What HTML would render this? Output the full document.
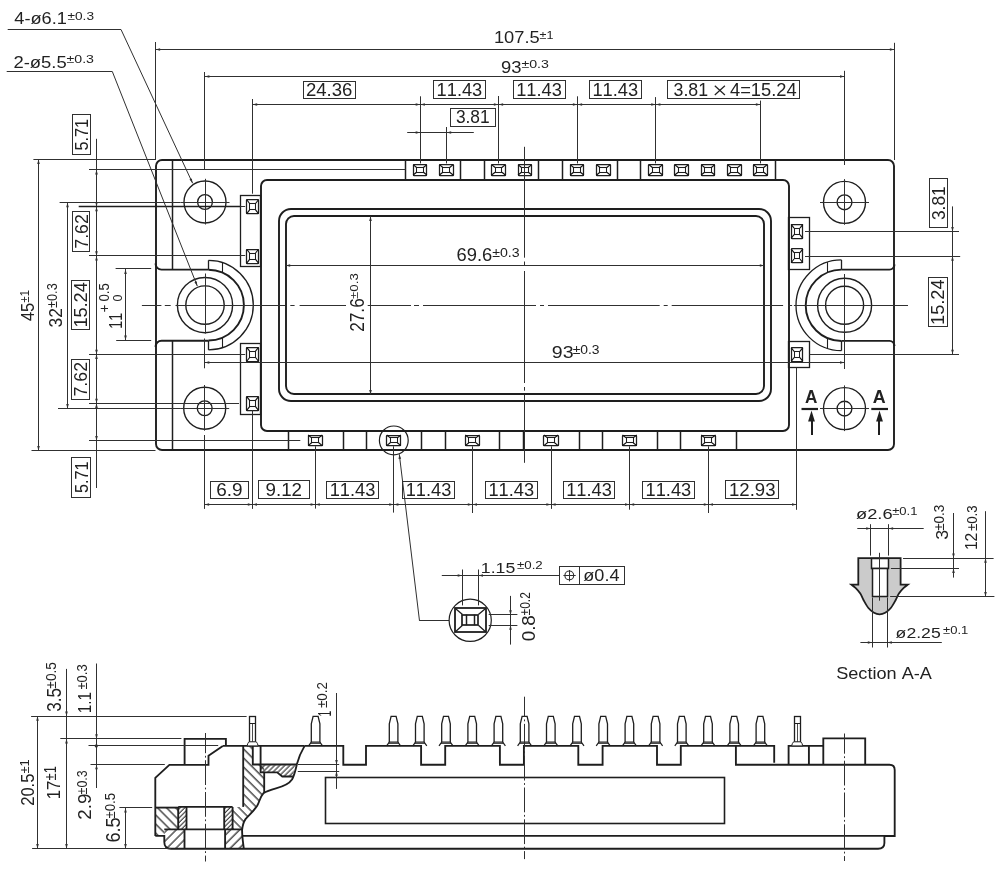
<!DOCTYPE html>
<html><head><meta charset="utf-8"><style>
html,body{margin:0;padding:0;background:#fff;}
svg{display:block;will-change:transform;}
text{font-family:"Liberation Sans",sans-serif;font-kerning:none;}
</style></head><body>
<svg width="1002" height="869" viewBox="0 0 1002 869">
<rect x="0" y="0" width="1002" height="869" fill="#fff"/>
<rect x="156.00" y="160.00" width="738.00" height="290.00" rx="6.00" stroke="#1e1e1e" stroke-width="1.90" fill="none"/>
<path d="M155.50 263.60A6 6 0 0 0 161.50 269.60L208.50 269.60" stroke="#1e1e1e" stroke-width="1.90" fill="none"/>
<path d="M155.50 346.70A6 6 0 0 1 161.50 340.70L208.50 340.70" stroke="#1e1e1e" stroke-width="1.90" fill="none"/>
<line x1="172.50" y1="160.00" x2="172.50" y2="269.60" stroke="#1e1e1e" stroke-width="1.50"/>
<line x1="172.50" y1="340.70" x2="172.50" y2="450.20" stroke="#1e1e1e" stroke-width="1.50"/>
<path d="M894.50 264.60A5 5 0 0 1 889.50 269.60L841.40 269.60" stroke="#1e1e1e" stroke-width="1.90" fill="none"/>
<path d="M894.50 345.90A5 5 0 0 0 889.50 340.90L841.40 340.90" stroke="#1e1e1e" stroke-width="1.90" fill="none"/>
<path d="M208.50 269.70A35.40 35.40 0 0 1 208.50 340.50" stroke="#1e1e1e" stroke-width="1.90" fill="none"/>
<path d="M208.50 260.30A44.80 44.80 0 0 1 208.50 349.90" stroke="#1e1e1e" stroke-width="1.30" fill="none"/>
<line x1="208.50" y1="260.30" x2="208.50" y2="269.70" stroke="#1e1e1e" stroke-width="1.30"/>
<line x1="208.50" y1="349.90" x2="208.50" y2="340.50" stroke="#1e1e1e" stroke-width="1.30"/>
<line x1="222.50" y1="262.51" x2="222.50" y2="272.54" stroke="#1e1e1e" stroke-width="1.10"/>
<line x1="222.50" y1="347.69" x2="222.50" y2="337.66" stroke="#1e1e1e" stroke-width="1.10"/>
<path d="M841.40 269.60A35.70 35.70 0 0 0 841.40 341.00" stroke="#1e1e1e" stroke-width="1.90" fill="none"/>
<path d="M841.40 259.90A45.40 45.40 0 0 0 841.40 350.70" stroke="#1e1e1e" stroke-width="1.30" fill="none"/>
<line x1="841.50" y1="259.90" x2="841.50" y2="269.60" stroke="#1e1e1e" stroke-width="1.30"/>
<line x1="841.50" y1="350.70" x2="841.50" y2="341.00" stroke="#1e1e1e" stroke-width="1.30"/>
<line x1="827.50" y1="262.08" x2="827.50" y2="272.42" stroke="#1e1e1e" stroke-width="1.10"/>
<line x1="827.50" y1="348.52" x2="827.50" y2="338.18" stroke="#1e1e1e" stroke-width="1.10"/>
<circle cx="205.00" cy="305.10" r="19.20" stroke="#1e1e1e" stroke-width="1.40" fill="none"/>
<circle cx="205.00" cy="305.10" r="27.60" stroke="#1e1e1e" stroke-width="1.40" fill="none"/>
<circle cx="844.60" cy="305.30" r="19.00" stroke="#1e1e1e" stroke-width="1.40" fill="none"/>
<circle cx="844.60" cy="305.30" r="27.00" stroke="#1e1e1e" stroke-width="1.40" fill="none"/>
<circle cx="205.00" cy="202.00" r="21.00" stroke="#1e1e1e" stroke-width="1.35" fill="none"/>
<circle cx="205.00" cy="202.00" r="7.40" stroke="#1e1e1e" stroke-width="1.35" fill="none"/>
<line x1="180.50" y1="202.50" x2="229.50" y2="202.50" stroke="#303030" stroke-width="1.00"/>
<line x1="205.50" y1="178.80" x2="205.50" y2="224.50" stroke="#303030" stroke-width="1.00"/>
<circle cx="204.70" cy="408.20" r="21.00" stroke="#1e1e1e" stroke-width="1.35" fill="none"/>
<circle cx="204.70" cy="408.20" r="7.40" stroke="#1e1e1e" stroke-width="1.35" fill="none"/>
<line x1="180.20" y1="408.50" x2="229.20" y2="408.50" stroke="#303030" stroke-width="1.00"/>
<line x1="204.50" y1="385.00" x2="204.50" y2="430.70" stroke="#303030" stroke-width="1.00"/>
<circle cx="844.50" cy="202.30" r="21.00" stroke="#1e1e1e" stroke-width="1.35" fill="none"/>
<circle cx="844.50" cy="202.30" r="7.40" stroke="#1e1e1e" stroke-width="1.35" fill="none"/>
<line x1="820.00" y1="202.50" x2="869.00" y2="202.50" stroke="#303030" stroke-width="1.00"/>
<line x1="844.50" y1="179.10" x2="844.50" y2="224.80" stroke="#303030" stroke-width="1.00"/>
<circle cx="844.50" cy="408.60" r="21.00" stroke="#1e1e1e" stroke-width="1.35" fill="none"/>
<circle cx="844.50" cy="408.60" r="7.40" stroke="#1e1e1e" stroke-width="1.35" fill="none"/>
<line x1="820.00" y1="408.50" x2="869.00" y2="408.50" stroke="#303030" stroke-width="1.00"/>
<line x1="844.50" y1="385.40" x2="844.50" y2="431.10" stroke="#303030" stroke-width="1.00"/>
<line x1="405.50" y1="160.00" x2="405.50" y2="179.50" stroke="#1e1e1e" stroke-width="1.50"/>
<line x1="460.50" y1="160.00" x2="460.50" y2="179.50" stroke="#1e1e1e" stroke-width="1.50"/>
<line x1="484.50" y1="160.00" x2="484.50" y2="179.50" stroke="#1e1e1e" stroke-width="1.50"/>
<line x1="538.50" y1="160.00" x2="538.50" y2="179.50" stroke="#1e1e1e" stroke-width="1.50"/>
<line x1="562.50" y1="160.00" x2="562.50" y2="179.50" stroke="#1e1e1e" stroke-width="1.50"/>
<line x1="617.50" y1="160.00" x2="617.50" y2="179.50" stroke="#1e1e1e" stroke-width="1.50"/>
<line x1="640.50" y1="160.00" x2="640.50" y2="179.50" stroke="#1e1e1e" stroke-width="1.50"/>
<line x1="775.50" y1="160.00" x2="775.50" y2="179.50" stroke="#1e1e1e" stroke-width="1.50"/>
<rect x="261.00" y="180.00" width="528.00" height="251.00" rx="6.00" stroke="#1e1e1e" stroke-width="1.90" fill="none"/>
<rect x="279.00" y="209.00" width="492.00" height="192.00" rx="12.00" stroke="#1e1e1e" stroke-width="1.90" fill="none"/>
<rect x="286.00" y="216.00" width="478.00" height="178.00" rx="8.00" stroke="#1e1e1e" stroke-width="1.90" fill="none"/>
<line x1="288.50" y1="431.10" x2="288.50" y2="450.20" stroke="#1e1e1e" stroke-width="1.50"/>
<line x1="343.50" y1="431.10" x2="343.50" y2="450.20" stroke="#1e1e1e" stroke-width="1.50"/>
<line x1="366.50" y1="431.10" x2="366.50" y2="450.20" stroke="#1e1e1e" stroke-width="1.50"/>
<line x1="421.50" y1="431.10" x2="421.50" y2="450.20" stroke="#1e1e1e" stroke-width="1.50"/>
<line x1="445.50" y1="431.10" x2="445.50" y2="450.20" stroke="#1e1e1e" stroke-width="1.50"/>
<line x1="499.50" y1="431.10" x2="499.50" y2="450.20" stroke="#1e1e1e" stroke-width="1.50"/>
<line x1="523.50" y1="431.10" x2="523.50" y2="450.20" stroke="#1e1e1e" stroke-width="1.50"/>
<line x1="579.50" y1="431.10" x2="579.50" y2="450.20" stroke="#1e1e1e" stroke-width="1.50"/>
<line x1="602.50" y1="431.10" x2="602.50" y2="450.20" stroke="#1e1e1e" stroke-width="1.50"/>
<line x1="657.50" y1="431.10" x2="657.50" y2="450.20" stroke="#1e1e1e" stroke-width="1.50"/>
<line x1="680.50" y1="431.10" x2="680.50" y2="450.20" stroke="#1e1e1e" stroke-width="1.50"/>
<line x1="736.50" y1="431.10" x2="736.50" y2="450.20" stroke="#1e1e1e" stroke-width="1.50"/>
<rect x="240.50" y="195.50" width="20.00" height="71.00" rx="0.00" stroke="#1e1e1e" stroke-width="1.30" fill="none"/>
<rect x="240.50" y="343.50" width="20.00" height="71.00" rx="0.00" stroke="#1e1e1e" stroke-width="1.30" fill="none"/>
<rect x="788.50" y="217.50" width="21.00" height="52.00" rx="0.00" stroke="#1e1e1e" stroke-width="1.30" fill="none"/>
<rect x="788.50" y="341.50" width="21.00" height="26.00" rx="0.00" stroke="#1e1e1e" stroke-width="1.30" fill="none"/>
<rect x="413.50" y="164.50" width="13.00" height="11.00" rx="0.60" stroke="#1e1e1e" stroke-width="1.25" fill="none"/>
<rect x="416.50" y="167.50" width="7.00" height="5.00" rx="0.00" stroke="#1e1e1e" stroke-width="1.05" fill="none"/>
<path d="M413.15 164.65L416.57 167.46M426.85 164.65L423.43 167.46M413.15 175.05L416.57 172.24M426.85 175.05L423.43 172.24" stroke="#111" stroke-width="1.15" fill="none"/>
<rect x="439.50" y="164.50" width="14.00" height="11.00" rx="0.60" stroke="#1e1e1e" stroke-width="1.25" fill="none"/>
<rect x="442.50" y="167.50" width="7.00" height="5.00" rx="0.00" stroke="#1e1e1e" stroke-width="1.05" fill="none"/>
<path d="M439.45 164.65L442.88 167.46M453.15 164.65L449.73 167.46M439.45 175.05L442.88 172.24M453.15 175.05L449.73 172.24" stroke="#111" stroke-width="1.15" fill="none"/>
<rect x="491.50" y="164.50" width="14.00" height="11.00" rx="0.60" stroke="#1e1e1e" stroke-width="1.25" fill="none"/>
<rect x="495.50" y="167.50" width="6.00" height="5.00" rx="0.00" stroke="#1e1e1e" stroke-width="1.05" fill="none"/>
<path d="M491.65 164.65L495.07 167.46M505.35 164.65L501.93 167.46M491.65 175.05L495.07 172.24M505.35 175.05L501.93 172.24" stroke="#111" stroke-width="1.15" fill="none"/>
<rect x="518.50" y="164.50" width="13.00" height="11.00" rx="0.60" stroke="#1e1e1e" stroke-width="1.25" fill="none"/>
<rect x="521.50" y="167.50" width="7.00" height="5.00" rx="0.00" stroke="#1e1e1e" stroke-width="1.05" fill="none"/>
<path d="M518.05 164.65L521.48 167.46M531.75 164.65L528.32 167.46M518.05 175.05L521.48 172.24M531.75 175.05L528.32 172.24" stroke="#111" stroke-width="1.15" fill="none"/>
<rect x="570.50" y="164.50" width="13.00" height="11.00" rx="0.60" stroke="#1e1e1e" stroke-width="1.25" fill="none"/>
<rect x="573.50" y="167.50" width="7.00" height="5.00" rx="0.00" stroke="#1e1e1e" stroke-width="1.05" fill="none"/>
<path d="M570.15 164.65L573.58 167.46M583.85 164.65L580.42 167.46M570.15 175.05L573.58 172.24M583.85 175.05L580.42 172.24" stroke="#111" stroke-width="1.15" fill="none"/>
<rect x="596.50" y="164.50" width="14.00" height="11.00" rx="0.60" stroke="#1e1e1e" stroke-width="1.25" fill="none"/>
<rect x="599.50" y="167.50" width="7.00" height="5.00" rx="0.00" stroke="#1e1e1e" stroke-width="1.05" fill="none"/>
<path d="M596.55 164.65L599.98 167.46M610.25 164.65L606.82 167.46M596.55 175.05L599.98 172.24M610.25 175.05L606.82 172.24" stroke="#111" stroke-width="1.15" fill="none"/>
<rect x="648.50" y="164.50" width="14.00" height="11.00" rx="0.60" stroke="#1e1e1e" stroke-width="1.25" fill="none"/>
<rect x="652.50" y="167.50" width="7.00" height="5.00" rx="0.00" stroke="#1e1e1e" stroke-width="1.05" fill="none"/>
<path d="M648.95 164.65L652.38 167.46M662.65 164.65L659.22 167.46M648.95 175.05L652.38 172.24M662.65 175.05L659.22 172.24" stroke="#111" stroke-width="1.15" fill="none"/>
<rect x="674.50" y="164.50" width="14.00" height="11.00" rx="0.60" stroke="#1e1e1e" stroke-width="1.25" fill="none"/>
<rect x="678.50" y="167.50" width="7.00" height="5.00" rx="0.00" stroke="#1e1e1e" stroke-width="1.05" fill="none"/>
<path d="M674.75 164.65L678.18 167.46M688.45 164.65L685.02 167.46M674.75 175.05L678.18 172.24M688.45 175.05L685.02 172.24" stroke="#111" stroke-width="1.15" fill="none"/>
<rect x="701.50" y="164.50" width="13.00" height="11.00" rx="0.60" stroke="#1e1e1e" stroke-width="1.25" fill="none"/>
<rect x="704.50" y="167.50" width="7.00" height="5.00" rx="0.00" stroke="#1e1e1e" stroke-width="1.05" fill="none"/>
<path d="M701.15 164.65L704.58 167.46M714.85 164.65L711.42 167.46M701.15 175.05L704.58 172.24M714.85 175.05L711.42 172.24" stroke="#111" stroke-width="1.15" fill="none"/>
<rect x="727.50" y="164.50" width="14.00" height="11.00" rx="0.60" stroke="#1e1e1e" stroke-width="1.25" fill="none"/>
<rect x="730.50" y="167.50" width="7.00" height="5.00" rx="0.00" stroke="#1e1e1e" stroke-width="1.05" fill="none"/>
<path d="M727.45 164.65L730.88 167.46M741.15 164.65L737.72 167.46M727.45 175.05L730.88 172.24M741.15 175.05L737.72 172.24" stroke="#111" stroke-width="1.15" fill="none"/>
<rect x="753.50" y="164.50" width="14.00" height="11.00" rx="0.60" stroke="#1e1e1e" stroke-width="1.25" fill="none"/>
<rect x="756.50" y="167.50" width="7.00" height="5.00" rx="0.00" stroke="#1e1e1e" stroke-width="1.05" fill="none"/>
<path d="M753.45 164.65L756.88 167.46M767.15 164.65L763.72 167.46M753.45 175.05L756.88 172.24M767.15 175.05L763.72 172.24" stroke="#111" stroke-width="1.15" fill="none"/>
<rect x="246.50" y="199.50" width="12.00" height="14.00" rx="0.60" stroke="#1e1e1e" stroke-width="1.25" fill="none"/>
<rect x="249.50" y="203.50" width="6.00" height="6.00" rx="0.00" stroke="#1e1e1e" stroke-width="1.05" fill="none"/>
<path d="M246.70 199.75L249.65 203.50M258.50 199.75L255.55 203.50M246.70 213.65L249.65 209.90M258.50 213.65L255.55 209.90" stroke="#111" stroke-width="1.15" fill="none"/>
<rect x="246.50" y="249.50" width="12.00" height="14.00" rx="0.60" stroke="#1e1e1e" stroke-width="1.25" fill="none"/>
<rect x="249.50" y="253.50" width="6.00" height="6.00" rx="0.00" stroke="#1e1e1e" stroke-width="1.05" fill="none"/>
<path d="M246.70 249.25L249.65 253.00M258.50 249.25L255.55 253.00M246.70 263.15L249.65 259.40M258.50 263.15L255.55 259.40" stroke="#111" stroke-width="1.15" fill="none"/>
<rect x="246.50" y="347.50" width="12.00" height="14.00" rx="0.60" stroke="#1e1e1e" stroke-width="1.25" fill="none"/>
<rect x="249.50" y="351.50" width="6.00" height="6.00" rx="0.00" stroke="#1e1e1e" stroke-width="1.05" fill="none"/>
<path d="M246.70 347.35L249.65 351.10M258.50 347.35L255.55 351.10M246.70 361.25L249.65 357.50M258.50 361.25L255.55 357.50" stroke="#111" stroke-width="1.15" fill="none"/>
<rect x="246.50" y="396.50" width="12.00" height="14.00" rx="0.60" stroke="#1e1e1e" stroke-width="1.25" fill="none"/>
<rect x="249.50" y="400.50" width="6.00" height="6.00" rx="0.00" stroke="#1e1e1e" stroke-width="1.05" fill="none"/>
<path d="M246.70 396.55L249.65 400.30M258.50 396.55L255.55 400.30M246.70 410.45L249.65 406.70M258.50 410.45L255.55 406.70" stroke="#111" stroke-width="1.15" fill="none"/>
<rect x="791.50" y="224.50" width="11.00" height="14.00" rx="0.60" stroke="#1e1e1e" stroke-width="1.25" fill="none"/>
<rect x="794.50" y="228.50" width="5.00" height="6.00" rx="0.00" stroke="#1e1e1e" stroke-width="1.05" fill="none"/>
<path d="M791.10 224.45L794.05 228.20M802.90 224.45L799.95 228.20M791.10 238.35L794.05 234.60M802.90 238.35L799.95 234.60" stroke="#111" stroke-width="1.15" fill="none"/>
<rect x="791.50" y="248.50" width="11.00" height="14.00" rx="0.60" stroke="#1e1e1e" stroke-width="1.25" fill="none"/>
<rect x="794.50" y="252.50" width="5.00" height="6.00" rx="0.00" stroke="#1e1e1e" stroke-width="1.05" fill="none"/>
<path d="M791.10 248.85L794.05 252.60M802.90 248.85L799.95 252.60M791.10 262.75L794.05 259.00M802.90 262.75L799.95 259.00" stroke="#111" stroke-width="1.15" fill="none"/>
<rect x="791.50" y="347.50" width="11.00" height="14.00" rx="0.60" stroke="#1e1e1e" stroke-width="1.25" fill="none"/>
<rect x="794.50" y="351.50" width="5.00" height="6.00" rx="0.00" stroke="#1e1e1e" stroke-width="1.05" fill="none"/>
<path d="M791.10 347.55L794.05 351.30M802.90 347.55L799.95 351.30M791.10 361.45L794.05 357.70M802.90 361.45L799.95 357.70" stroke="#111" stroke-width="1.15" fill="none"/>
<rect x="308.50" y="435.50" width="14.00" height="10.00" rx="0.60" stroke="#1e1e1e" stroke-width="1.25" fill="none"/>
<rect x="311.50" y="437.50" width="7.00" height="5.00" rx="0.00" stroke="#1e1e1e" stroke-width="1.05" fill="none"/>
<path d="M308.10 435.05L311.65 437.91M322.30 435.05L318.75 437.91M308.10 445.65L311.65 442.79M322.30 445.65L318.75 442.79" stroke="#111" stroke-width="1.15" fill="none"/>
<rect x="386.50" y="435.50" width="14.00" height="10.00" rx="0.60" stroke="#1e1e1e" stroke-width="1.25" fill="none"/>
<rect x="390.50" y="437.50" width="7.00" height="5.00" rx="0.00" stroke="#1e1e1e" stroke-width="1.05" fill="none"/>
<path d="M386.70 435.05L390.25 437.91M400.90 435.05L397.35 437.91M386.70 445.65L390.25 442.79M400.90 445.65L397.35 442.79" stroke="#111" stroke-width="1.15" fill="none"/>
<rect x="465.50" y="435.50" width="14.00" height="10.00" rx="0.60" stroke="#1e1e1e" stroke-width="1.25" fill="none"/>
<rect x="468.50" y="437.50" width="7.00" height="5.00" rx="0.00" stroke="#1e1e1e" stroke-width="1.05" fill="none"/>
<path d="M465.30 435.05L468.85 437.91M479.50 435.05L475.95 437.91M465.30 445.65L468.85 442.79M479.50 445.65L475.95 442.79" stroke="#111" stroke-width="1.15" fill="none"/>
<rect x="543.50" y="435.50" width="15.00" height="10.00" rx="0.60" stroke="#1e1e1e" stroke-width="1.25" fill="none"/>
<rect x="547.50" y="437.50" width="7.00" height="5.00" rx="0.00" stroke="#1e1e1e" stroke-width="1.05" fill="none"/>
<path d="M543.90 435.05L547.45 437.91M558.10 435.05L554.55 437.91M543.90 445.65L547.45 442.79M558.10 445.65L554.55 442.79" stroke="#111" stroke-width="1.15" fill="none"/>
<rect x="622.50" y="435.50" width="14.00" height="10.00" rx="0.60" stroke="#1e1e1e" stroke-width="1.25" fill="none"/>
<rect x="626.50" y="437.50" width="7.00" height="5.00" rx="0.00" stroke="#1e1e1e" stroke-width="1.05" fill="none"/>
<path d="M622.50 435.05L626.05 437.91M636.70 435.05L633.15 437.91M622.50 445.65L626.05 442.79M636.70 445.65L633.15 442.79" stroke="#111" stroke-width="1.15" fill="none"/>
<rect x="701.50" y="435.50" width="14.00" height="10.00" rx="0.60" stroke="#1e1e1e" stroke-width="1.25" fill="none"/>
<rect x="704.50" y="437.50" width="7.00" height="5.00" rx="0.00" stroke="#1e1e1e" stroke-width="1.05" fill="none"/>
<path d="M701.30 435.05L704.85 437.91M715.50 435.05L711.95 437.91M701.30 445.65L704.85 442.79M715.50 445.65L711.95 442.79" stroke="#111" stroke-width="1.15" fill="none"/>
<line x1="141.90" y1="305.50" x2="161.40" y2="305.50" stroke="#303030" stroke-width="1.00"/>
<line x1="164.80" y1="305.50" x2="170.70" y2="305.50" stroke="#303030" stroke-width="1.00"/>
<line x1="175.50" y1="305.50" x2="285.20" y2="305.50" stroke="#303030" stroke-width="1.00"/>
<line x1="290.30" y1="305.50" x2="294.60" y2="305.50" stroke="#303030" stroke-width="1.00"/>
<line x1="299.60" y1="305.50" x2="346.00" y2="305.50" stroke="#303030" stroke-width="1.00"/>
<line x1="367.70" y1="305.50" x2="411.00" y2="305.50" stroke="#303030" stroke-width="1.00"/>
<line x1="414.00" y1="305.50" x2="419.00" y2="305.50" stroke="#303030" stroke-width="1.00"/>
<line x1="423.00" y1="305.50" x2="536.00" y2="305.50" stroke="#303030" stroke-width="1.00"/>
<line x1="540.00" y1="305.50" x2="544.00" y2="305.50" stroke="#303030" stroke-width="1.00"/>
<line x1="548.00" y1="305.50" x2="659.70" y2="305.50" stroke="#303030" stroke-width="1.00"/>
<line x1="663.70" y1="305.50" x2="667.70" y2="305.50" stroke="#303030" stroke-width="1.00"/>
<line x1="671.70" y1="305.50" x2="783.10" y2="305.50" stroke="#303030" stroke-width="1.00"/>
<line x1="788.10" y1="305.50" x2="792.10" y2="305.50" stroke="#303030" stroke-width="1.00"/>
<line x1="793.90" y1="305.50" x2="908.00" y2="305.50" stroke="#303030" stroke-width="1.00"/>
<line x1="524.50" y1="146.80" x2="524.50" y2="257.70" stroke="#303030" stroke-width="1.00"/>
<line x1="524.50" y1="261.50" x2="524.50" y2="265.30" stroke="#303030" stroke-width="1.00"/>
<line x1="524.50" y1="271.00" x2="524.50" y2="383.00" stroke="#303030" stroke-width="1.00"/>
<line x1="524.50" y1="387.00" x2="524.50" y2="390.70" stroke="#303030" stroke-width="1.00"/>
<line x1="524.50" y1="395.00" x2="524.50" y2="462.80" stroke="#303030" stroke-width="1.00"/>
<circle cx="393.80" cy="440.40" r="14.40" stroke="#1e1e1e" stroke-width="1.20" fill="none"/>
<line x1="205.50" y1="273.50" x2="205.50" y2="333.60" stroke="#303030" stroke-width="1.00"/>
<line x1="844.50" y1="274.00" x2="844.50" y2="369.00" stroke="#303030" stroke-width="1.00"/>
<line x1="155.50" y1="42.00" x2="155.50" y2="160.00" stroke="#303030" stroke-width="1.00"/>
<line x1="894.50" y1="42.80" x2="894.50" y2="160.00" stroke="#303030" stroke-width="1.00"/>
<line x1="155.50" y1="49.50" x2="894.50" y2="49.50" stroke="#303030" stroke-width="1.00"/>
<path d="M155.50 49.50L160.10 48.20L160.10 50.80Z" fill="#303030"/>
<path d="M894.50 49.50L889.90 50.80L889.90 48.20Z" fill="#303030"/>
<text transform="translate(493.91 43.10) scale(1.0913 1)" font-size="16.76" font-weight="normal" fill="#222">107.5</text>
<text transform="translate(539.50 38.90) scale(1.0696 1)" font-size="11.77" font-weight="normal" fill="#222">±1</text>
<line x1="204.50" y1="72.00" x2="204.50" y2="169.50" stroke="#303030" stroke-width="1.00"/>
<line x1="844.50" y1="70.80" x2="844.50" y2="165.00" stroke="#303030" stroke-width="1.00"/>
<line x1="204.80" y1="76.50" x2="844.60" y2="76.50" stroke="#303030" stroke-width="1.00"/>
<path d="M204.80 76.50L209.40 75.20L209.40 77.80Z" fill="#303030"/>
<path d="M844.60 76.50L840.00 77.80L840.00 75.20Z" fill="#303030"/>
<text transform="translate(501.04 72.70) scale(1.1273 1)" font-size="16.33" font-weight="normal" fill="#222">93</text>
<text transform="translate(521.45 68.39) scale(1.2861 1)" font-size="11.02" font-weight="normal" fill="#222">±0.3</text>
<line x1="252.50" y1="99.00" x2="252.50" y2="193.70" stroke="#303030" stroke-width="1.00"/>
<line x1="420.50" y1="96.30" x2="420.50" y2="163.40" stroke="#303030" stroke-width="1.00"/>
<line x1="498.50" y1="96.00" x2="498.50" y2="163.40" stroke="#303030" stroke-width="1.00"/>
<line x1="577.50" y1="96.30" x2="577.50" y2="163.40" stroke="#303030" stroke-width="1.00"/>
<line x1="655.50" y1="97.10" x2="655.50" y2="163.40" stroke="#303030" stroke-width="1.00"/>
<line x1="760.50" y1="100.60" x2="760.50" y2="163.40" stroke="#303030" stroke-width="1.00"/>
<line x1="252.60" y1="104.50" x2="760.50" y2="104.50" stroke="#303030" stroke-width="1.00"/>
<path d="M252.60 104.50L257.20 103.20L257.20 105.80Z" fill="#303030"/>
<path d="M420.30 104.50L415.70 105.80L415.70 103.20Z" fill="#303030"/>
<path d="M420.30 104.50L424.90 103.20L424.90 105.80Z" fill="#303030"/>
<path d="M498.50 104.50L493.90 105.80L493.90 103.20Z" fill="#303030"/>
<path d="M498.50 104.50L503.10 103.20L503.10 105.80Z" fill="#303030"/>
<path d="M577.50 104.50L572.90 105.80L572.90 103.20Z" fill="#303030"/>
<path d="M577.50 104.50L582.10 103.20L582.10 105.80Z" fill="#303030"/>
<path d="M655.80 104.50L651.20 105.80L651.20 103.20Z" fill="#303030"/>
<path d="M655.80 104.50L660.40 103.20L660.40 105.80Z" fill="#303030"/>
<path d="M760.50 104.50L755.90 105.80L755.90 103.20Z" fill="#303030"/>
<rect x="303.50" y="81.50" width="52.00" height="17.00" rx="0.00" stroke="#303030" stroke-width="1.00" fill="none"/>
<text transform="translate(305.88 95.95) scale(1.0452 1)" font-size="17.76" fill="#222">24.36</text>
<rect x="433.50" y="80.50" width="52.00" height="18.00" rx="0.00" stroke="#303030" stroke-width="1.00" fill="none"/>
<text transform="translate(436.60 95.95) scale(1.0282 1)" font-size="17.76" fill="#222">11.43</text>
<rect x="513.50" y="80.50" width="52.00" height="18.00" rx="0.00" stroke="#303030" stroke-width="1.00" fill="none"/>
<text transform="translate(516.20 95.95) scale(1.0282 1)" font-size="17.76" fill="#222">11.43</text>
<rect x="589.50" y="80.50" width="52.00" height="18.00" rx="0.00" stroke="#303030" stroke-width="1.00" fill="none"/>
<text transform="translate(592.45 95.95) scale(1.0282 1)" font-size="17.76" fill="#222">11.43</text>
<rect x="667.50" y="80.50" width="132.00" height="18.00" rx="0.00" stroke="#303030" stroke-width="1.00" fill="none"/>
<text transform="translate(673.52 95.70) scale(1.0075 1)" font-size="17.62" font-weight="normal" fill="#222">3.81</text>
<line x1="714.80" y1="85.70" x2="724.90" y2="95.00" stroke="#222" stroke-width="1.20"/>
<line x1="724.90" y1="85.70" x2="714.80" y2="95.00" stroke="#222" stroke-width="1.20"/>
<text transform="translate(729.98 95.70) scale(1.0404 1)" font-size="17.62" font-weight="normal" fill="#222">4=15.24</text>
<line x1="446.50" y1="127.00" x2="446.50" y2="163.40" stroke="#303030" stroke-width="1.00"/>
<line x1="407.20" y1="132.50" x2="473.80" y2="132.50" stroke="#303030" stroke-width="1.00"/>
<path d="M420.30 132.50L415.70 133.80L415.70 131.20Z" fill="#303030"/>
<path d="M446.60 132.50L451.20 131.20L451.20 133.80Z" fill="#303030"/>
<rect x="450.50" y="108.50" width="45.00" height="18.00" rx="0.00" stroke="#303030" stroke-width="1.00" fill="none"/>
<text transform="translate(455.90 123.40) scale(0.9782 1)" font-size="17.76" fill="#222">3.81</text>
<line x1="33.40" y1="159.50" x2="155.50" y2="159.50" stroke="#303030" stroke-width="1.00"/>
<line x1="31.50" y1="450.50" x2="155.50" y2="450.50" stroke="#303030" stroke-width="1.00"/>
<line x1="38.50" y1="159.50" x2="38.50" y2="450.70" stroke="#303030" stroke-width="1.00"/>
<path d="M38.50 159.50L39.80 164.10L37.20 164.10Z" fill="#303030"/>
<path d="M38.50 450.70L37.20 446.10L39.80 446.10Z" fill="#303030"/>
<line x1="59.60" y1="202.50" x2="180.50" y2="202.50" stroke="#303030" stroke-width="1.00"/>
<line x1="58.00" y1="408.50" x2="180.50" y2="408.50" stroke="#303030" stroke-width="1.00"/>
<line x1="67.50" y1="202.60" x2="67.50" y2="408.60" stroke="#303030" stroke-width="1.00"/>
<path d="M67.50 202.60L68.80 207.20L66.20 207.20Z" fill="#303030"/>
<path d="M67.50 408.60L66.20 404.00L68.80 404.00Z" fill="#303030"/>
<line x1="96.50" y1="138.80" x2="96.50" y2="488.00" stroke="#303030" stroke-width="1.00"/>
<line x1="89.00" y1="169.50" x2="405.60" y2="169.50" stroke="#303030" stroke-width="1.00"/>
<line x1="78.70" y1="206.50" x2="240.50" y2="206.50" stroke="#1e1e1e" stroke-width="1.50"/>
<line x1="240.50" y1="206.50" x2="245.20" y2="206.50" stroke="#303030" stroke-width="1.00"/>
<line x1="89.00" y1="255.50" x2="245.20" y2="255.50" stroke="#303030" stroke-width="1.00"/>
<line x1="89.00" y1="354.50" x2="245.20" y2="354.50" stroke="#303030" stroke-width="1.00"/>
<line x1="89.00" y1="403.50" x2="239.00" y2="403.50" stroke="#303030" stroke-width="1.00"/>
<line x1="89.00" y1="440.50" x2="300.30" y2="440.50" stroke="#303030" stroke-width="1.00"/>
<path d="M96.50 169.80L97.80 174.40L95.20 174.40Z" fill="#303030"/>
<path d="M96.50 206.70L95.20 202.10L97.80 202.10Z" fill="#303030"/>
<path d="M96.50 206.70L97.80 211.30L95.20 211.30Z" fill="#303030"/>
<path d="M96.50 255.90L95.20 251.30L97.80 251.30Z" fill="#303030"/>
<path d="M96.50 255.90L97.80 260.50L95.20 260.50Z" fill="#303030"/>
<path d="M96.50 354.30L95.20 349.70L97.80 349.70Z" fill="#303030"/>
<path d="M96.50 354.30L97.80 358.90L95.20 358.90Z" fill="#303030"/>
<path d="M96.50 403.30L95.20 398.70L97.80 398.70Z" fill="#303030"/>
<path d="M96.50 403.30L97.80 407.90L95.20 407.90Z" fill="#303030"/>
<path d="M96.50 440.50L95.20 435.90L97.80 435.90Z" fill="#303030"/>
<rect x="72.50" y="114.50" width="18.00" height="40.00" rx="0.00" stroke="#303030" stroke-width="1.00" fill="none"/>
<text transform="translate(87.95 150.57) rotate(-90) scale(0.8605 1)" font-size="18.90" fill="#222">5.71</text>
<rect x="72.50" y="211.50" width="17.00" height="40.00" rx="0.00" stroke="#303030" stroke-width="1.00" fill="none"/>
<text transform="translate(87.50 248.75) rotate(-90) scale(0.9550 1)" font-size="18.62" fill="#222">7.62</text>
<rect x="71.50" y="280.50" width="18.00" height="49.00" rx="0.00" stroke="#303030" stroke-width="1.00" fill="none"/>
<text transform="translate(87.25 327.61) rotate(-90) scale(0.9747 1)" font-size="18.62" fill="#222">15.24</text>
<rect x="71.50" y="359.50" width="18.00" height="40.00" rx="0.00" stroke="#303030" stroke-width="1.00" fill="none"/>
<text transform="translate(87.25 396.55) rotate(-90) scale(0.9550 1)" font-size="18.62" fill="#222">7.62</text>
<rect x="71.50" y="457.50" width="19.00" height="40.00" rx="0.00" stroke="#303030" stroke-width="1.00" fill="none"/>
<text transform="translate(87.75 493.12) rotate(-90) scale(0.8605 1)" font-size="18.90" fill="#222">5.71</text>
<line x1="115.60" y1="268.50" x2="151.20" y2="268.50" stroke="#303030" stroke-width="1.00"/>
<line x1="116.20" y1="340.50" x2="151.20" y2="340.50" stroke="#303030" stroke-width="1.00"/>
<line x1="125.50" y1="268.90" x2="125.50" y2="340.70" stroke="#303030" stroke-width="1.00"/>
<path d="M125.50 269.50L126.80 274.10L124.20 274.10Z" fill="#303030"/>
<path d="M125.50 340.20L124.20 335.60L126.80 335.60Z" fill="#303030"/>
<text transform="translate(33.60 321.08) rotate(-90) scale(0.9112 1)" font-size="18.02" font-weight="normal" fill="#222">45</text>
<text transform="translate(29.10 302.45) rotate(-90) scale(0.8232 1)" font-size="13.52" font-weight="normal" fill="#222">±1</text>
<text transform="translate(61.90 327.57) rotate(-90) scale(0.9318 1)" font-size="18.76" font-weight="normal" fill="#222">32</text>
<text transform="translate(56.96 308.01) rotate(-90) scale(0.9044 1)" font-size="14.12" font-weight="normal" fill="#222">±0.3</text>
<text transform="translate(122.20 328.69) rotate(-90) scale(0.7617 1)" font-size="18.75" font-weight="normal" fill="#222">11</text>
<text transform="translate(109.39 312.55) rotate(-90) scale(0.9091 1)" font-size="14.72" font-weight="normal" fill="#222">+</text>
<text transform="translate(108.76 301.52) rotate(-90) scale(0.9357 1)" font-size="14.12" font-weight="normal" fill="#222">0.5</text>
<text transform="translate(122.07 301.49) rotate(-90) scale(0.9161 1)" font-size="13.70" font-weight="normal" fill="#222">0</text>
<line x1="805.00" y1="231.50" x2="959.00" y2="231.50" stroke="#303030" stroke-width="1.00"/>
<line x1="805.00" y1="256.50" x2="960.20" y2="256.50" stroke="#303030" stroke-width="1.00"/>
<line x1="809.40" y1="354.50" x2="959.00" y2="354.50" stroke="#303030" stroke-width="1.00"/>
<line x1="952.50" y1="206.40" x2="952.50" y2="354.30" stroke="#303030" stroke-width="1.00"/>
<path d="M952.50 231.50L951.20 226.90L953.80 226.90Z" fill="#303030"/>
<path d="M952.50 256.10L953.80 260.70L951.20 260.70Z" fill="#303030"/>
<path d="M952.50 354.30L951.20 349.70L953.80 349.70Z" fill="#303030"/>
<rect x="929.50" y="178.50" width="18.00" height="49.00" rx="0.00" stroke="#303030" stroke-width="1.00" fill="none"/>
<text transform="translate(944.90 220.05) rotate(-90) scale(0.9330 1)" font-size="18.62" fill="#222">3.81</text>
<rect x="928.50" y="277.50" width="19.00" height="49.00" rx="0.00" stroke="#303030" stroke-width="1.00" fill="none"/>
<text transform="translate(944.30 324.91) rotate(-90) scale(0.9747 1)" font-size="18.62" fill="#222">15.24</text>
<line x1="204.50" y1="435.00" x2="204.50" y2="508.90" stroke="#303030" stroke-width="1.00"/>
<line x1="252.50" y1="410.00" x2="252.50" y2="508.90" stroke="#303030" stroke-width="1.00"/>
<line x1="315.50" y1="446.30" x2="315.50" y2="508.60" stroke="#303030" stroke-width="1.00"/>
<line x1="393.50" y1="446.30" x2="393.50" y2="512.60" stroke="#303030" stroke-width="1.00"/>
<line x1="472.50" y1="446.30" x2="472.50" y2="513.00" stroke="#303030" stroke-width="1.00"/>
<line x1="551.50" y1="446.30" x2="551.50" y2="508.90" stroke="#303030" stroke-width="1.00"/>
<line x1="629.50" y1="446.30" x2="629.50" y2="509.70" stroke="#303030" stroke-width="1.00"/>
<line x1="708.50" y1="446.30" x2="708.50" y2="513.00" stroke="#303030" stroke-width="1.00"/>
<line x1="796.50" y1="367.60" x2="796.50" y2="509.80" stroke="#303030" stroke-width="1.00"/>
<line x1="204.50" y1="504.50" x2="796.60" y2="504.50" stroke="#303030" stroke-width="1.00"/>
<path d="M204.50 504.50L209.10 503.20L209.10 505.80Z" fill="#303030"/>
<path d="M252.40 504.50L247.80 505.80L247.80 503.20Z" fill="#303030"/>
<path d="M252.40 504.50L257.00 503.20L257.00 505.80Z" fill="#303030"/>
<path d="M315.20 504.50L310.60 505.80L310.60 503.20Z" fill="#303030"/>
<path d="M315.20 504.50L319.80 503.20L319.80 505.80Z" fill="#303030"/>
<path d="M393.80 504.50L389.20 505.80L389.20 503.20Z" fill="#303030"/>
<path d="M393.80 504.50L398.40 503.20L398.40 505.80Z" fill="#303030"/>
<path d="M472.40 504.50L467.80 505.80L467.80 503.20Z" fill="#303030"/>
<path d="M472.40 504.50L477.00 503.20L477.00 505.80Z" fill="#303030"/>
<path d="M551.00 504.50L546.40 505.80L546.40 503.20Z" fill="#303030"/>
<path d="M551.00 504.50L555.60 503.20L555.60 505.80Z" fill="#303030"/>
<path d="M629.60 504.50L625.00 505.80L625.00 503.20Z" fill="#303030"/>
<path d="M629.60 504.50L634.20 503.20L634.20 505.80Z" fill="#303030"/>
<path d="M708.40 504.50L703.80 505.80L703.80 503.20Z" fill="#303030"/>
<path d="M708.40 504.50L713.00 503.20L713.00 505.80Z" fill="#303030"/>
<path d="M796.60 504.50L792.00 505.80L792.00 503.20Z" fill="#303030"/>
<rect x="210.50" y="481.50" width="38.00" height="17.00" rx="0.00" stroke="#303030" stroke-width="1.00" fill="none"/>
<text transform="translate(216.17 496.05) scale(1.0678 1)" font-size="17.76" fill="#222">6.9</text>
<rect x="258.50" y="480.50" width="51.00" height="18.00" rx="0.00" stroke="#303030" stroke-width="1.00" fill="none"/>
<text transform="translate(265.49 495.90) scale(1.0567 1)" font-size="17.76" fill="#222">9.12</text>
<rect x="326.50" y="481.50" width="52.00" height="17.00" rx="0.00" stroke="#303030" stroke-width="1.00" fill="none"/>
<text transform="translate(329.70 495.95) scale(1.0282 1)" font-size="17.76" fill="#222">11.43</text>
<rect x="402.50" y="481.50" width="52.00" height="17.00" rx="0.00" stroke="#303030" stroke-width="1.00" fill="none"/>
<text transform="translate(405.70 495.95) scale(1.0282 1)" font-size="17.76" fill="#222">11.43</text>
<rect x="485.50" y="481.50" width="52.00" height="17.00" rx="0.00" stroke="#303030" stroke-width="1.00" fill="none"/>
<text transform="translate(488.45 495.95) scale(1.0282 1)" font-size="17.76" fill="#222">11.43</text>
<rect x="563.50" y="481.50" width="51.00" height="17.00" rx="0.00" stroke="#303030" stroke-width="1.00" fill="none"/>
<text transform="translate(566.20 495.95) scale(1.0282 1)" font-size="17.76" fill="#222">11.43</text>
<rect x="642.50" y="481.50" width="52.00" height="17.00" rx="0.00" stroke="#303030" stroke-width="1.00" fill="none"/>
<text transform="translate(645.55 495.95) scale(1.0282 1)" font-size="17.76" fill="#222">11.43</text>
<rect x="725.50" y="480.50" width="53.00" height="18.00" rx="0.00" stroke="#303030" stroke-width="1.00" fill="none"/>
<text transform="translate(728.98 495.80) scale(1.0471 1)" font-size="17.76" fill="#222">12.93</text>
<line x1="285.60" y1="265.50" x2="764.40" y2="265.50" stroke="#303030" stroke-width="1.00"/>
<path d="M285.60 265.50L290.20 264.20L290.20 266.80Z" fill="#303030"/>
<path d="M764.40 265.50L759.80 266.80L759.80 264.20Z" fill="#303030"/>
<text transform="translate(456.57 261.00) scale(1.0257 1)" font-size="17.90" font-weight="normal" fill="#222">69.6</text>
<text transform="translate(492.15 257.18) scale(1.1399 1)" font-size="12.43" font-weight="normal" fill="#222">±0.3</text>
<line x1="370.50" y1="216.30" x2="370.50" y2="394.50" stroke="#303030" stroke-width="1.00"/>
<path d="M370.50 216.30L371.80 220.90L369.20 220.90Z" fill="#303030"/>
<path d="M370.50 394.50L369.20 389.90L371.80 389.90Z" fill="#303030"/>
<text transform="translate(364.10 331.77) rotate(-90) scale(0.8530 1)" font-size="20.19" font-weight="normal" fill="#222">27.6</text>
<text transform="translate(358.39 298.92) rotate(-90) scale(1.1732 1)" font-size="11.30" font-weight="normal" fill="#222">±0.3</text>
<line x1="204.50" y1="338.50" x2="204.50" y2="368.30" stroke="#303030" stroke-width="1.00"/>
<line x1="204.70" y1="362.50" x2="844.60" y2="362.50" stroke="#303030" stroke-width="1.00"/>
<path d="M204.70 362.50L209.30 361.20L209.30 363.80Z" fill="#303030"/>
<path d="M844.60 362.50L840.00 363.80L840.00 361.20Z" fill="#303030"/>
<text transform="translate(551.78 358.30) scale(1.1393 1)" font-size="17.19" font-weight="normal" fill="#222">93</text>
<text transform="translate(572.66 354.18) scale(1.1183 1)" font-size="12.43" font-weight="normal" fill="#222">±0.3</text>
<text transform="translate(14.28 24.30) scale(1.1052 1)" font-size="16.47" font-weight="normal" fill="#222">4-ø6.1</text>
<text transform="translate(67.47 19.90) scale(1.3458 1)" font-size="10.17" font-weight="normal" fill="#222">±0.3</text>
<line x1="7.70" y1="29.50" x2="121.00" y2="29.50" stroke="#303030" stroke-width="1.00"/>
<line x1="121.00" y1="29.50" x2="192.60" y2="183.20" stroke="#303030" stroke-width="1.00"/>
<path d="M192.60 183.20L189.48 179.58L191.84 178.48Z" fill="#303030"/>
<text transform="translate(13.47 67.90) scale(1.0731 1)" font-size="17.19" font-weight="normal" fill="#222">2-ø5.5</text>
<text transform="translate(66.55 62.70) scale(1.3742 1)" font-size="10.31" font-weight="normal" fill="#222">±0.3</text>
<line x1="6.70" y1="71.50" x2="112.30" y2="71.50" stroke="#303030" stroke-width="1.00"/>
<line x1="112.30" y1="71.50" x2="197.30" y2="286.10" stroke="#303030" stroke-width="1.00"/>
<path d="M197.30 286.10L194.40 282.30L196.81 281.34Z" fill="#303030"/>
<defs>
<pattern id="hA" patternUnits="userSpaceOnUse" width="6.4" height="6.4" patternTransform="rotate(-45)"><line x1="1" y1="-1" x2="1" y2="7.4" stroke="#222" stroke-width="1.2"/></pattern>
<pattern id="hB" patternUnits="userSpaceOnUse" width="3.2" height="3.2" patternTransform="rotate(45)"><line x1="1" y1="-1" x2="1" y2="4.2" stroke="#222" stroke-width="1.0"/></pattern>
<pattern id="hC" patternUnits="userSpaceOnUse" width="6.4" height="6.4" patternTransform="rotate(45)"><line x1="1" y1="-1" x2="1" y2="7.4" stroke="#222" stroke-width="1.2"/></pattern>
<pattern id="hD" patternUnits="userSpaceOnUse" width="3.6" height="3.6" patternTransform="rotate(45)"><line x1="1" y1="-1" x2="1" y2="4.6" stroke="#222" stroke-width="1.1"/></pattern>
</defs>
<path d="M155.3 807.6L178.2 807.6L178.2 829.3L164.3 829.3L164.3 835.9L155.3 835.9Z" fill="url(#hA)"/>
<path d="M178.2 806.9L186.5 806.9L186.5 829.3L178.2 829.3Z" fill="url(#hB)"/>
<path d="M224.2 806.9L232.6 806.9L232.6 829.3L224.2 829.3Z" fill="url(#hB)"/>
<path d="M164.3 829.3L184.5 829.3L184.5 848.7L171 848.7Q164.3 848.7 164.3 842Z" fill="url(#hC)"/>
<path d="M225.1 829.3L242.2 829.3L243.8 848.5L225.1 848.5Z" fill="url(#hC)"/>
<path d="M243.2 745.9L252.8 745.9L252.8 764.5L264.2 764.5L264.2 793.1C260 797 259.5 802 257.2 805.7C253 812 249 815 245.5 819.1C243.5 822 242.5 826 242.1 829.3L232.6 829.3L232.6 806.9L243.2 806.9Z" fill="url(#hA)"/>
<path d="M260.6 765.2L295.0 765.2L292.9 776.5L282.3 776.5L277.1 772.3L260.6 772.3Z" fill="url(#hD)"/>
<path d="M155.3 835.9L155.3 777.9L169.4 764.8L208.5 764.8L208.5 755.8L222.8 745.9" stroke="#1e1e1e" stroke-width="1.85" fill="none"/>
<path d="M184.6 764.8L184.6 738.9L225.9 738.9L225.9 745.9" stroke="#1e1e1e" stroke-width="1.85" fill="none"/>
<path d="M155.3 835.9L164.3 835.9L164.3 842Q164.3 848.7 171 848.7L878 848.7" stroke="#1e1e1e" stroke-width="1.85" fill="none"/>
<path d="M164.3 829.3L242.2 829.3" stroke="#1e1e1e" stroke-width="1.85" fill="none"/>
<path d="M155.3 807.6L178.2 807.6" stroke="#1e1e1e" stroke-width="1.85" fill="none"/>
<path d="M178.2 806.9L232.6 806.9" stroke="#1e1e1e" stroke-width="1.85" fill="none"/>
<path d="M178.2 806.9L178.2 829.3M186.5 806.9L186.5 829.3M224.2 806.9L224.2 829.3M232.6 806.9L232.6 829.3" stroke="#1e1e1e" stroke-width="1.85" fill="none"/>
<path d="M184.5 829.3L184.5 848.7M225.1 829.3L225.1 848.7" stroke="#1e1e1e" stroke-width="1.85" fill="none"/>
<path d="M243.2 745.9L243.2 806.9" stroke="#1e1e1e" stroke-width="1.85" fill="none"/>
<path d="M252.8 745.9L252.8 764.5L296.8 764.5M260.6 745.9L260.6 764.5" stroke="#1e1e1e" stroke-width="1.85" fill="none"/>
<path d="M260.6 765.2L260.6 772.3L277.1 772.3L282.3 776.5L292.9 776.5" stroke="#1e1e1e" stroke-width="1.85" fill="none"/>
<path d="M264.2 772.3L264.2 793" stroke="#1e1e1e" stroke-width="1.85" fill="none"/>
<path d="M304.6 745.9C301 752 298.5 758 296.8 764.5C295.5 770 294.5 775 292 779.5C289 784 283 786.5 276 788.3C270 790 266 791.5 263.5 793.1C260 797 259.5 802 257.2 805.7C253 812 249 815 245.5 819.1C243.5 822 242.5 826 242.1 829.9C242 836 243 842 243.8 848.7" stroke="#1e1e1e" stroke-width="1.85" fill="none"/>
<path d="M222.8 745.9L304.6 745.9" stroke="#1e1e1e" stroke-width="1.85" fill="none"/>
<path d="M304.6 745.9L343.3 745.9L343.3 764.7L366.0 764.7L366.0 745.9L421.1 745.9L421.1 764.7L445.2 764.7L445.2 745.9L499.9 745.9L499.9 764.7L523.9 764.7L523.9 745.9L578.3 745.9L578.3 764.7L602.6 764.7L602.6 745.9L657.0 745.9L657.0 764.7L680.8 764.7L680.8 745.9L774.2 745.9L774.2 762.8" stroke="#1e1e1e" stroke-width="1.85" fill="none"/>
<path d="M735.9 745.9L735.9 764.7L889.5 764.7Q894.7 764.7 894.7 770L894.7 836L884.4 836L884.4 843Q884.4 848.7 878 848.7" stroke="#1e1e1e" stroke-width="1.85" fill="none"/>
<path d="M788.6 764.7L788.6 745.9L823.3 745.9M808.9 745.9L808.9 764.7M823.3 764.7L823.3 738.3L865.2 738.3L865.2 764.7" stroke="#1e1e1e" stroke-width="1.85" fill="none"/>
<path d="M242.9 835.8L894.7 835.8" stroke="#1e1e1e" stroke-width="1.85" fill="none"/>
<rect x="325.50" y="777.50" width="399.00" height="46.00" rx="0.00" stroke="#1e1e1e" stroke-width="1.60" fill="none"/>
<path d="M311.30 742.1L311.30 723.8L313.10 716.4L318.10 716.4L319.90 723.8L319.90 742.1Z" stroke="#1e1e1e" stroke-width="1.30" fill="#fff"/>
<path d="M308.60 745.9L311.30 742.1M322.60 745.9L319.90 742.1" stroke="#1e1e1e" stroke-width="1.20" fill="none"/>
<line x1="310.60" y1="743.50" x2="320.60" y2="743.50" stroke="#1e1e1e" stroke-width="0.80"/>
<path d="M389.30 742.1L389.30 723.8L391.10 716.4L396.10 716.4L397.90 723.8L397.90 742.1Z" stroke="#1e1e1e" stroke-width="1.30" fill="#fff"/>
<path d="M386.60 745.9L389.30 742.1M400.60 745.9L397.90 742.1" stroke="#1e1e1e" stroke-width="1.20" fill="none"/>
<line x1="388.60" y1="743.50" x2="398.60" y2="743.50" stroke="#1e1e1e" stroke-width="0.80"/>
<path d="M415.50 742.1L415.50 723.8L417.30 716.4L422.30 716.4L424.10 723.8L424.10 742.1Z" stroke="#1e1e1e" stroke-width="1.30" fill="#fff"/>
<path d="M412.80 745.9L415.50 742.1M426.80 745.9L424.10 742.1" stroke="#1e1e1e" stroke-width="1.20" fill="none"/>
<line x1="414.80" y1="743.50" x2="424.80" y2="743.50" stroke="#1e1e1e" stroke-width="0.80"/>
<path d="M441.70 742.1L441.70 723.8L443.50 716.4L448.50 716.4L450.30 723.8L450.30 742.1Z" stroke="#1e1e1e" stroke-width="1.30" fill="#fff"/>
<path d="M439.00 745.9L441.70 742.1M453.00 745.9L450.30 742.1" stroke="#1e1e1e" stroke-width="1.20" fill="none"/>
<line x1="441.00" y1="743.50" x2="451.00" y2="743.50" stroke="#1e1e1e" stroke-width="0.80"/>
<path d="M467.90 742.1L467.90 723.8L469.70 716.4L474.70 716.4L476.50 723.8L476.50 742.1Z" stroke="#1e1e1e" stroke-width="1.30" fill="#fff"/>
<path d="M465.20 745.9L467.90 742.1M479.20 745.9L476.50 742.1" stroke="#1e1e1e" stroke-width="1.20" fill="none"/>
<line x1="467.20" y1="743.50" x2="477.20" y2="743.50" stroke="#1e1e1e" stroke-width="0.80"/>
<path d="M494.10 742.1L494.10 723.8L495.90 716.4L500.90 716.4L502.70 723.8L502.70 742.1Z" stroke="#1e1e1e" stroke-width="1.30" fill="#fff"/>
<path d="M491.40 745.9L494.10 742.1M505.40 745.9L502.70 742.1" stroke="#1e1e1e" stroke-width="1.20" fill="none"/>
<line x1="493.40" y1="743.50" x2="503.40" y2="743.50" stroke="#1e1e1e" stroke-width="0.80"/>
<path d="M520.30 742.1L520.30 723.8L522.10 716.4L527.10 716.4L528.90 723.8L528.90 742.1Z" stroke="#1e1e1e" stroke-width="1.30" fill="#fff"/>
<path d="M517.60 745.9L520.30 742.1M531.60 745.9L528.90 742.1" stroke="#1e1e1e" stroke-width="1.20" fill="none"/>
<line x1="519.60" y1="743.50" x2="529.60" y2="743.50" stroke="#1e1e1e" stroke-width="0.80"/>
<path d="M546.50 742.1L546.50 723.8L548.30 716.4L553.30 716.4L555.10 723.8L555.10 742.1Z" stroke="#1e1e1e" stroke-width="1.30" fill="#fff"/>
<path d="M543.80 745.9L546.50 742.1M557.80 745.9L555.10 742.1" stroke="#1e1e1e" stroke-width="1.20" fill="none"/>
<line x1="545.80" y1="743.50" x2="555.80" y2="743.50" stroke="#1e1e1e" stroke-width="0.80"/>
<path d="M572.70 742.1L572.70 723.8L574.50 716.4L579.50 716.4L581.30 723.8L581.30 742.1Z" stroke="#1e1e1e" stroke-width="1.30" fill="#fff"/>
<path d="M570.00 745.9L572.70 742.1M584.00 745.9L581.30 742.1" stroke="#1e1e1e" stroke-width="1.20" fill="none"/>
<line x1="572.00" y1="743.50" x2="582.00" y2="743.50" stroke="#1e1e1e" stroke-width="0.80"/>
<path d="M598.90 742.1L598.90 723.8L600.70 716.4L605.70 716.4L607.50 723.8L607.50 742.1Z" stroke="#1e1e1e" stroke-width="1.30" fill="#fff"/>
<path d="M596.20 745.9L598.90 742.1M610.20 745.9L607.50 742.1" stroke="#1e1e1e" stroke-width="1.20" fill="none"/>
<line x1="598.20" y1="743.50" x2="608.20" y2="743.50" stroke="#1e1e1e" stroke-width="0.80"/>
<path d="M625.10 742.1L625.10 723.8L626.90 716.4L631.90 716.4L633.70 723.8L633.70 742.1Z" stroke="#1e1e1e" stroke-width="1.30" fill="#fff"/>
<path d="M622.40 745.9L625.10 742.1M636.40 745.9L633.70 742.1" stroke="#1e1e1e" stroke-width="1.20" fill="none"/>
<line x1="624.40" y1="743.50" x2="634.40" y2="743.50" stroke="#1e1e1e" stroke-width="0.80"/>
<path d="M651.30 742.1L651.30 723.8L653.10 716.4L658.10 716.4L659.90 723.8L659.90 742.1Z" stroke="#1e1e1e" stroke-width="1.30" fill="#fff"/>
<path d="M648.60 745.9L651.30 742.1M662.60 745.9L659.90 742.1" stroke="#1e1e1e" stroke-width="1.20" fill="none"/>
<line x1="650.60" y1="743.50" x2="660.60" y2="743.50" stroke="#1e1e1e" stroke-width="0.80"/>
<path d="M677.50 742.1L677.50 723.8L679.30 716.4L684.30 716.4L686.10 723.8L686.10 742.1Z" stroke="#1e1e1e" stroke-width="1.30" fill="#fff"/>
<path d="M674.80 745.9L677.50 742.1M688.80 745.9L686.10 742.1" stroke="#1e1e1e" stroke-width="1.20" fill="none"/>
<line x1="676.80" y1="743.50" x2="686.80" y2="743.50" stroke="#1e1e1e" stroke-width="0.80"/>
<path d="M703.70 742.1L703.70 723.8L705.50 716.4L710.50 716.4L712.30 723.8L712.30 742.1Z" stroke="#1e1e1e" stroke-width="1.30" fill="#fff"/>
<path d="M701.00 745.9L703.70 742.1M715.00 745.9L712.30 742.1" stroke="#1e1e1e" stroke-width="1.20" fill="none"/>
<line x1="703.00" y1="743.50" x2="713.00" y2="743.50" stroke="#1e1e1e" stroke-width="0.80"/>
<path d="M729.90 742.1L729.90 723.8L731.70 716.4L736.70 716.4L738.50 723.8L738.50 742.1Z" stroke="#1e1e1e" stroke-width="1.30" fill="#fff"/>
<path d="M727.20 745.9L729.90 742.1M741.20 745.9L738.50 742.1" stroke="#1e1e1e" stroke-width="1.20" fill="none"/>
<line x1="729.20" y1="743.50" x2="739.20" y2="743.50" stroke="#1e1e1e" stroke-width="0.80"/>
<path d="M756.10 742.1L756.10 723.8L757.90 716.4L762.90 716.4L764.70 723.8L764.70 742.1Z" stroke="#1e1e1e" stroke-width="1.30" fill="#fff"/>
<path d="M753.40 745.9L756.10 742.1M767.40 745.9L764.70 742.1" stroke="#1e1e1e" stroke-width="1.20" fill="none"/>
<line x1="755.40" y1="743.50" x2="765.40" y2="743.50" stroke="#1e1e1e" stroke-width="0.80"/>
<rect x="249.50" y="716.50" width="6.00" height="26.00" rx="0.00" stroke="#1e1e1e" stroke-width="1.30" fill="none"/>
<line x1="249.75" y1="723.50" x2="255.45" y2="723.50" stroke="#1e1e1e" stroke-width="1.00"/>
<line x1="252.50" y1="723.60" x2="252.50" y2="742.50" stroke="#1e1e1e" stroke-width="0.80"/>
<path d="M247.00 745.9L247.80 743.5Q248.40 741.8 249.60 741.8L255.60 741.8Q256.80 741.8 257.40 743.5L258.20 745.9Z" stroke="#1e1e1e" stroke-width="1.00" fill="#fff"/>
<rect x="794.50" y="716.50" width="6.00" height="26.00" rx="0.00" stroke="#1e1e1e" stroke-width="1.30" fill="none"/>
<line x1="794.35" y1="723.50" x2="800.05" y2="723.50" stroke="#1e1e1e" stroke-width="1.00"/>
<line x1="797.50" y1="723.60" x2="797.50" y2="742.50" stroke="#1e1e1e" stroke-width="0.80"/>
<path d="M791.60 745.9L792.40 743.5Q793.00 741.8 794.20 741.8L800.20 741.8Q801.40 741.8 802.00 743.5L802.80 745.9Z" stroke="#1e1e1e" stroke-width="1.00" fill="#fff"/>
<line x1="205.50" y1="733.00" x2="205.50" y2="861.50" stroke="#303030" stroke-width="1" stroke-dasharray="24.8 2.6 1.8 2.6" stroke-dashoffset="4.60"/>
<line x1="844.50" y1="733.50" x2="844.50" y2="861.00" stroke="#303030" stroke-width="1" stroke-dasharray="24.8 2.6 1.8 2.6" stroke-dashoffset="4.60"/>
<line x1="524.50" y1="696.70" x2="524.50" y2="859.10" stroke="#303030" stroke-width="1" stroke-dasharray="24.8 2.6 1.8 2.6" stroke-dashoffset="4.60"/>
<line x1="31.10" y1="716.50" x2="246.60" y2="716.50" stroke="#303030" stroke-width="1.00"/>
<line x1="60.30" y1="738.50" x2="181.40" y2="738.50" stroke="#303030" stroke-width="1.00"/>
<line x1="88.50" y1="745.50" x2="218.20" y2="745.50" stroke="#303030" stroke-width="1.00"/>
<line x1="90.50" y1="764.50" x2="164.80" y2="764.50" stroke="#303030" stroke-width="1.00"/>
<line x1="119.40" y1="807.50" x2="152.20" y2="807.50" stroke="#303030" stroke-width="1.00"/>
<line x1="32.10" y1="848.50" x2="171.00" y2="848.50" stroke="#303030" stroke-width="1.00"/>
<line x1="37.50" y1="716.20" x2="37.50" y2="848.60" stroke="#303030" stroke-width="1.00"/>
<path d="M37.50 716.20L38.80 720.80L36.20 720.80Z" fill="#303030"/>
<path d="M37.50 848.60L36.20 844.00L38.80 844.00Z" fill="#303030"/>
<line x1="66.50" y1="668.90" x2="66.50" y2="848.60" stroke="#303030" stroke-width="1.00"/>
<path d="M66.50 716.20L65.20 711.60L67.80 711.60Z" fill="#303030"/>
<path d="M66.50 738.80L67.80 743.40L65.20 743.40Z" fill="#303030"/>
<path d="M66.50 848.60L65.20 844.00L67.80 844.00Z" fill="#303030"/>
<line x1="96.50" y1="663.50" x2="96.50" y2="788.00" stroke="#303030" stroke-width="1.00"/>
<path d="M96.50 738.80L95.20 734.20L97.80 734.20Z" fill="#303030"/>
<circle cx="96.30" cy="745.90" r="1.60" stroke="#303030" stroke-width="0.00" fill="#303030"/>
<path d="M96.50 764.70L97.80 769.30L95.20 769.30Z" fill="#303030"/>
<line x1="125.50" y1="807.90" x2="125.50" y2="848.60" stroke="#303030" stroke-width="1.00"/>
<path d="M125.50 807.90L126.80 812.50L124.20 812.50Z" fill="#303030"/>
<path d="M125.50 848.60L124.20 844.00L126.80 844.00Z" fill="#303030"/>
<text transform="translate(61.10 711.85) rotate(-90) scale(0.8883 1)" font-size="19.33" font-weight="normal" fill="#222">3.5</text>
<text transform="translate(56.06 688.64) rotate(-90) scale(0.9621 1)" font-size="14.27" font-weight="normal" fill="#222">±0.5</text>
<text transform="translate(91.20 713.16) rotate(-90) scale(0.8073 1)" font-size="18.90" font-weight="normal" fill="#222">1.1</text>
<text transform="translate(86.56 689.51) rotate(-90) scale(0.8928 1)" font-size="14.55" font-weight="normal" fill="#222">±0.3</text>
<text transform="translate(33.70 805.84) rotate(-90) scale(0.8788 1)" font-size="18.90" font-weight="normal" fill="#222">20.5</text>
<text transform="translate(28.70 773.51) rotate(-90) scale(0.9532 1)" font-size="13.52" font-weight="normal" fill="#222">±1</text>
<text transform="translate(60.10 799.17) rotate(-90) scale(0.9538 1)" font-size="17.44" font-weight="normal" fill="#222">17</text>
<text transform="translate(55.80 780.41) rotate(-90) scale(0.7915 1)" font-size="16.28" font-weight="normal" fill="#222">±1</text>
<text transform="translate(90.70 819.64) rotate(-90) scale(1.0376 1)" font-size="18.05" font-weight="normal" fill="#222">2.9</text>
<text transform="translate(87.35 794.39) rotate(-90) scale(0.7980 1)" font-size="15.54" font-weight="normal" fill="#222">±0.3</text>
<text transform="translate(119.80 842.62) rotate(-90) scale(0.9271 1)" font-size="19.62" font-weight="normal" fill="#222">6.5</text>
<text transform="translate(115.36 818.52) rotate(-90) scale(0.8929 1)" font-size="14.83" font-weight="normal" fill="#222">±0.5</text>
<line x1="298.00" y1="764.50" x2="339.20" y2="764.50" stroke="#303030" stroke-width="1.00"/>
<line x1="297.80" y1="771.50" x2="339.20" y2="771.50" stroke="#303030" stroke-width="1.00"/>
<line x1="336.50" y1="693.00" x2="336.50" y2="788.90" stroke="#303030" stroke-width="1.00"/>
<path d="M336.50 764.60L335.20 760.00L337.80 760.00Z" fill="#303030"/>
<path d="M336.50 771.20L337.80 775.80L335.20 775.80Z" fill="#303030"/>
<text transform="translate(331.10 716.40) rotate(-90) scale(0.5610 1)" font-size="18.60" font-weight="normal" fill="#222">1</text>
<text transform="translate(327.16 708.02) rotate(-90) scale(0.9092 1)" font-size="14.69" font-weight="normal" fill="#222">±0.2</text>
<text transform="translate(805.07 403.00) scale(0.9434 1)" font-size="18.17" font-weight="bold" fill="#222">A</text>
<line x1="801.50" y1="409.00" x2="818.00" y2="409.00" stroke="#1e1e1e" stroke-width="2.20"/>
<line x1="812.00" y1="419.00" x2="812.00" y2="434.90" stroke="#1e1e1e" stroke-width="2.00"/>
<path d="M811.50 410.40L814.90 421.40L808.10 421.40Z" fill="#1e1e1e"/>
<text transform="translate(872.85 403.00) scale(0.9845 1)" font-size="18.17" font-weight="bold" fill="#222">A</text>
<line x1="871.30" y1="409.00" x2="888.00" y2="409.00" stroke="#1e1e1e" stroke-width="2.20"/>
<line x1="879.00" y1="419.00" x2="879.00" y2="434.90" stroke="#1e1e1e" stroke-width="2.00"/>
<path d="M879.50 410.40L882.90 421.40L876.10 421.40Z" fill="#1e1e1e"/>
<line x1="399.30" y1="454.30" x2="419.50" y2="620.90" stroke="#303030" stroke-width="1.00"/>
<path d="M399.30 454.30L401.14 458.71L398.56 459.02Z" fill="#303030"/>
<line x1="419.50" y1="620.50" x2="449.10" y2="620.50" stroke="#303030" stroke-width="1.00"/>
<circle cx="470.20" cy="620.30" r="21.10" stroke="#1e1e1e" stroke-width="1.20" fill="none"/>
<rect x="455.00" y="608.00" width="31.00" height="24.00" rx="0.00" stroke="#1e1e1e" stroke-width="1.80" fill="none"/>
<rect x="462.00" y="615.00" width="16.00" height="10.00" rx="0.00" stroke="#1e1e1e" stroke-width="1.70" fill="none"/>
<line x1="466.50" y1="614.60" x2="466.50" y2="625.20" stroke="#1e1e1e" stroke-width="1.50"/>
<line x1="474.50" y1="614.60" x2="474.50" y2="625.20" stroke="#1e1e1e" stroke-width="1.50"/>
<path d="M455.4 608.5L462.5 614.6M485.6 608.5L478.4 614.6M455.4 631.8L462.5 625.2M485.6 631.8L478.4 625.2" stroke="#1e1e1e" stroke-width="1.30" fill="none"/>
<line x1="462.50" y1="569.50" x2="462.50" y2="605.40" stroke="#303030" stroke-width="1.00"/>
<line x1="478.50" y1="569.50" x2="478.50" y2="605.40" stroke="#303030" stroke-width="1.00"/>
<line x1="441.80" y1="575.50" x2="559.20" y2="575.50" stroke="#303030" stroke-width="1.00"/>
<path d="M462.30 575.50L457.70 576.80L457.70 574.20Z" fill="#303030"/>
<path d="M478.40 575.50L483.00 574.20L483.00 576.80Z" fill="#303030"/>
<text transform="translate(480.85 572.70) scale(1.1802 1)" font-size="14.97" font-weight="normal" fill="#222">1.15</text>
<text transform="translate(516.98 569.39) scale(1.1921 1)" font-size="11.16" font-weight="normal" fill="#222">±0.2</text>
<rect x="559.50" y="566.50" width="65.00" height="18.00" rx="0.00" stroke="#303030" stroke-width="1.00" fill="none"/>
<line x1="579.50" y1="566.80" x2="579.50" y2="584.10" stroke="#303030" stroke-width="1.00"/>
<circle cx="569.30" cy="575.40" r="4.40" stroke="#303030" stroke-width="1.10" fill="none"/>
<line x1="563.40" y1="575.50" x2="575.70" y2="575.50" stroke="#303030" stroke-width="1.00"/>
<line x1="569.50" y1="570.00" x2="569.50" y2="581.40" stroke="#303030" stroke-width="1.00"/>
<text transform="translate(583.31 580.90) scale(1.1386 1)" font-size="15.90" font-weight="normal" fill="#222">ø0.4</text>
<line x1="488.70" y1="614.50" x2="517.40" y2="614.50" stroke="#303030" stroke-width="1.00"/>
<line x1="488.70" y1="625.50" x2="517.40" y2="625.50" stroke="#303030" stroke-width="1.00"/>
<line x1="510.50" y1="595.90" x2="510.50" y2="644.60" stroke="#303030" stroke-width="1.00"/>
<path d="M510.50 614.90L509.20 610.30L511.80 610.30Z" fill="#303030"/>
<path d="M510.50 625.20L511.80 629.80L509.20 629.80Z" fill="#303030"/>
<text transform="translate(534.90 641.33) rotate(-90) scale(0.9803 1)" font-size="19.19" font-weight="normal" fill="#222">0.8</text>
<text transform="translate(530.36 615.38) rotate(-90) scale(0.8502 1)" font-size="14.12" font-weight="normal" fill="#222">±0.2</text>
<path d="M858.3 558.1L900.6 558.1L900.6 584.6L907.90 584.60C907.20 585.15 905.20 586.42 903.70 587.90C902.20 589.38 900.23 591.48 898.90 593.50C897.57 595.52 897.05 597.58 895.70 600.00C894.35 602.42 892.55 605.87 890.80 608.00C889.05 610.13 887.07 611.73 885.20 612.80C883.33 613.87 881.47 614.40 879.60 614.40C877.73 614.40 875.87 613.87 874.00 612.80C872.13 611.73 870.15 610.13 868.40 608.00C866.65 605.87 864.85 602.42 863.50 600.00C862.15 597.58 861.63 595.52 860.30 593.50C858.97 591.48 857.00 589.38 855.50 587.90C854.00 586.42 852.00 585.15 851.30 584.60L858.3 584.6Z" stroke="#1e1e1e" stroke-width="1.80" fill="#cbcbcb"/>
<rect x="871.50" y="558.50" width="17.00" height="10.00" rx="0.00" stroke="#1e1e1e" stroke-width="1.50" fill="#fff"/>
<rect x="872.50" y="568.50" width="15.00" height="28.00" rx="0.00" stroke="#1e1e1e" stroke-width="1.50" fill="#fff"/>
<line x1="879.50" y1="552.80" x2="879.50" y2="600.70" stroke="#303030" stroke-width="1.00"/>
<line x1="872.50" y1="597.50" x2="872.50" y2="647.50" stroke="#303030" stroke-width="1.00"/>
<line x1="887.50" y1="597.50" x2="887.50" y2="647.50" stroke="#303030" stroke-width="1.00"/>
<line x1="870.50" y1="524.20" x2="870.50" y2="555.60" stroke="#303030" stroke-width="1.00"/>
<line x1="888.50" y1="524.20" x2="888.50" y2="555.60" stroke="#303030" stroke-width="1.00"/>
<line x1="857.30" y1="528.50" x2="923.70" y2="528.50" stroke="#303030" stroke-width="1.00"/>
<path d="M870.80 528.50L866.20 529.80L866.20 527.20Z" fill="#303030"/>
<path d="M888.50 528.50L893.10 527.20L893.10 529.80Z" fill="#303030"/>
<text transform="translate(856.01 519.00) scale(1.2279 1)" font-size="14.89" font-weight="normal" fill="#222">ø2.6</text>
<text transform="translate(892.19 515.39) scale(1.1974 1)" font-size="10.88" font-weight="normal" fill="#222">±0.1</text>
<line x1="903.00" y1="558.50" x2="993.60" y2="558.50" stroke="#303030" stroke-width="1.00"/>
<line x1="890.90" y1="568.50" x2="959.00" y2="568.50" stroke="#303030" stroke-width="1.00"/>
<line x1="890.10" y1="596.50" x2="994.40" y2="596.50" stroke="#303030" stroke-width="1.00"/>
<line x1="953.50" y1="513.00" x2="953.50" y2="577.60" stroke="#303030" stroke-width="1.00"/>
<path d="M953.50 558.10L952.20 553.50L954.80 553.50Z" fill="#303030"/>
<path d="M953.50 568.50L954.80 573.10L952.20 573.10Z" fill="#303030"/>
<line x1="985.50" y1="511.20" x2="985.50" y2="596.50" stroke="#303030" stroke-width="1.00"/>
<path d="M985.50 558.10L986.80 562.70L984.20 562.70Z" fill="#303030"/>
<path d="M985.50 596.50L984.20 591.90L986.80 591.90Z" fill="#303030"/>
<text transform="translate(948.10 539.77) rotate(-90) scale(1.0396 1)" font-size="17.04" font-weight="normal" fill="#222">3</text>
<text transform="translate(944.06 530.83) rotate(-90) scale(0.9481 1)" font-size="14.27" font-weight="normal" fill="#222">±0.3</text>
<text transform="translate(977.40 550.09) rotate(-90) scale(0.9485 1)" font-size="16.47" font-weight="normal" fill="#222">12</text>
<text transform="translate(976.96 531.12) rotate(-90) scale(0.9616 1)" font-size="13.84" font-weight="normal" fill="#222">±0.3</text>
<line x1="860.40" y1="642.50" x2="941.80" y2="642.50" stroke="#303030" stroke-width="1.00"/>
<path d="M872.40 642.50L867.80 643.80L867.80 641.20Z" fill="#303030"/>
<path d="M887.30 642.50L891.90 641.20L891.90 643.80Z" fill="#303030"/>
<text transform="translate(895.62 638.00) scale(1.2320 1)" font-size="14.32" font-weight="normal" fill="#222">ø2.25</text>
<text transform="translate(943.09 634.49) scale(1.1820 1)" font-size="11.02" font-weight="normal" fill="#222">±0.1</text>
<text transform="translate(836.18 678.70) scale(1.1527 1)" font-size="15.73" font-weight="normal" fill="#222">Section A-A</text>
</svg>
</body></html>
